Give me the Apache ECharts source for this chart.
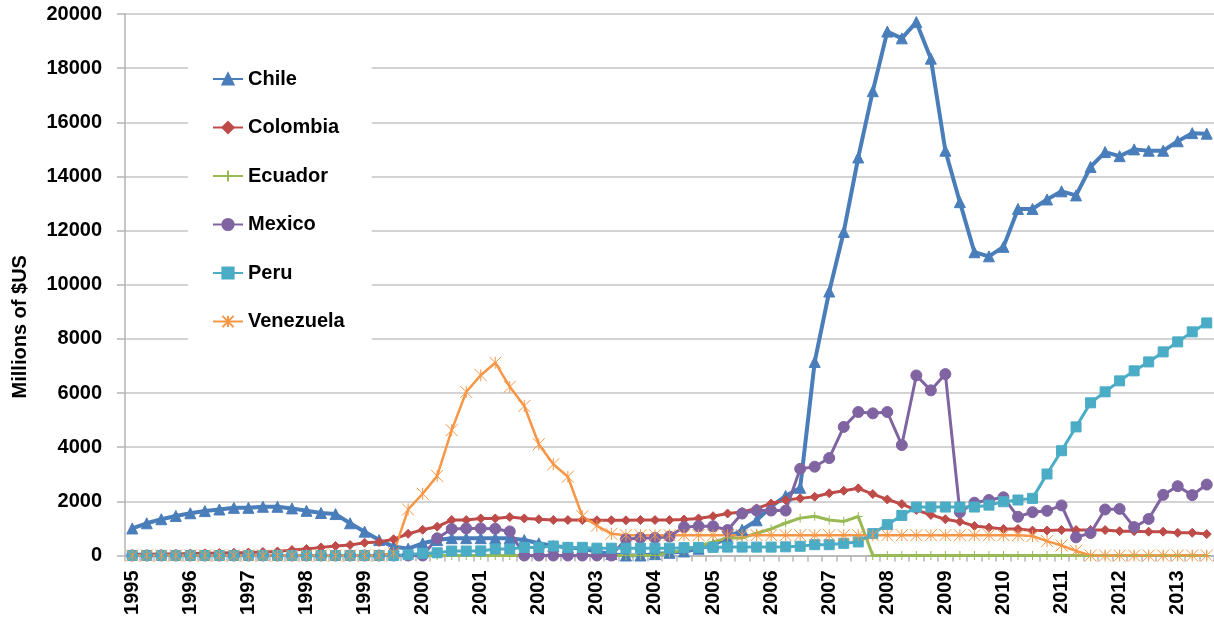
<!DOCTYPE html>
<html>
<head>
<meta charset="utf-8">
<script src="https://cdn.jsdelivr.net/npm/echarts@6/dist/echarts.min.js"></script>
<style>
  html, body { margin: 0; padding: 0; background: #fff; }
  #chart { width: 1214px; height: 625px; }
</style>
</head>
<body>
<div id="chart"></div>
<script>
// tick labels: one per year, data is quarterly from 1995 Q1 to 2013 Q3
const years = [1995, 1996, 1997, 1998, 1999, 2000, 2001, 2002, 2003, 2004,
  2005, 2006, 2007, 2008, 2009, 2010, 2011, 2012, 2013];
const quarters = ["Q1", "Q2", "Q3", "Q4"];

// values in millions of $US
const chile = [1000, 1190, 1340, 1460, 1560, 1640, 1700, 1760, 1760, 1800,
  1800, 1740, 1650, 1570, 1530, 1190, 880, 570, 330, 250,
  450, 570, 640, 640, 640, 640, 640, 570, 450, 350,
  300, 250, 150, 50, 0, 0, 50, 100, 150, 250,
  400, 650, 950, 1300, 1800, 2200, 2500, 7150, 9750, 11950,
  14700, 17150, 19350, 19100, 19700, 18350, 14950, 13050, 11200, 11050,
  11400, 12800, 12800, 13150, 13450, 13300, 14350, 14900, 14750, 15000,
  14950, 14950, 15300, 15600, 15580];
const colombia = [50, 50, 60, 60, 70, 80, 90, 100, 110, 130,
  150, 200, 240, 300, 350, 390, 470, 500, 600, 800,
  950, 1065, 1310, 1310, 1370, 1370, 1420, 1370, 1340, 1310,
  1310, 1310, 1300, 1300, 1300, 1310, 1310, 1310, 1330, 1370,
  1450, 1550, 1610, 1740, 1920, 2050, 2110, 2170, 2300, 2390,
  2480, 2270, 2070, 1900, 1680, 1500, 1340, 1250, 1090, 1030,
  980, 980, 920, 920, 940, 940, 940, 940, 900, 900,
  880, 880, 840, 840, 790];
const ecuador = [0, 0, 0, 0, 0, 0, 0, 0, 0, 0,
  0, 0, 0, 0, 0, 0, 0, 0, 0, 0,
  0, 0, 0, 0, 0, 0, 0, 0, 0, 0,
  0, 0, 0, 0, 0, 0, 0, 100, 200, 350,
  500, 650, 650, 820, 980, 1200, 1380, 1450, 1310, 1260,
  1440, 0, 0, 0, 0, 0, 0, 0, 0, 0,
  0, 0, 0, 0, 0, 0, 0, 0, 0, 0,
  0, 0, 0, 0, 0];
const mexico = [0, 0, 0, 0, 0, 0, 0, 0, 0, 0,
  0, 0, 0, 0, 0, 0, 0, 0, 0, 0,
  0, 635, 980, 1000, 1000, 990, 890, 0, 0, 0,
  0, 0, 0, 0, 600, 650, 650, 700, 1050, 1080,
  1080, 940, 1550, 1660, 1660, 1660, 3200, 3280, 3600, 4750,
  5300, 5250, 5300, 4080, 6650, 6100, 6700, 1600, 1950, 2050,
  2150, 1430, 1600, 1650, 1850, 670, 830, 1700, 1720, 1050,
  1350, 2240, 2560, 2230, 2620];
const peru = [0, 0, 0, 0, 0, 0, 0, 0, 0, 0,
  0, 0, 0, 0, 0, 0, 0, 0, 0, 30,
  80, 100, 165, 165, 170, 240, 240, 300, 300, 350,
  300, 300, 270, 270, 270, 270, 270, 270, 290, 300,
  300, 310, 310, 310, 310, 320, 340, 400, 400, 450,
  500, 810, 1140, 1480, 1790, 1790, 1790, 1790, 1790, 1860,
  1985, 2050, 2110, 3010, 3870, 4750, 5640, 6045, 6450, 6820,
  7150, 7520, 7890, 8260, 8590];
const venezuela = [0, 0, 0, 0, 0, 0, 0, 0, 0, 0,
  0, 0, 0, 0, 0, 0, 0, 0, 100, 1700,
  2280, 2940, 4630, 6040, 6660, 7120, 6230, 5520, 4110, 3370,
  2910, 1450, 1100, 800, 750, 750, 750, 750, 750, 750,
  750, 750, 750, 750, 750, 750, 750, 750, 750, 750,
  750, 750, 750, 750, 750, 750, 750, 750, 750, 750,
  750, 750, 720, 530, 370, 170, 0, 0, 0, 0,
  0, 0, 0, 0, 0];

// categories "1995 Q1" ... cut to the length of the data
const categories = [];
years.forEach((y) => {
  quarters.forEach((q) => {
    categories.push(y + " " + q);
  });
});
categories.length = chile.length;

const font = "'Liberation Sans', Arial, sans-serif";

function line(name, data, color, symbol, size, width) {
  return {
    name: name,
    type: "line",
    data: data,
    symbol: symbol,
    symbolSize: size,
    showAllSymbol: true,
    lineStyle: { color: color, width: width },
    itemStyle: { color: color, borderColor: color, borderWidth: 1 },
    emphasis: { disabled: true },
    animation: false,
  };
}

const option = {
  backgroundColor: "#fff",
  animation: false,
  textStyle: { fontFamily: font },
  grid: { left: 125, right: 0, top: 14, bottom: 69.5 },
  legend: {
    orient: "vertical",
    left: 188,
    top: 55,
    padding: [14, 27, 14, 24],
    backgroundColor: "#fff",
    itemWidth: 30,
    itemHeight: 14,
    itemGap: 28.5,
    textStyle: { fontFamily: font, fontSize: 20, fontWeight: "bold", color: "#000", lineHeight: 20 },
    data: ["Chile", "Colombia", "Ecuador", "Mexico", "Peru", "Venezuela"],
  },
  xAxis: {
    type: "category",
    data: categories,
    boundaryGap: true,
    axisLine: { lineStyle: { color: "#b5b5b5", width: 1.5 } },
    axisTick: { show: true, interval: 0, length: 6, lineStyle: { color: "#b5b5b5", width: 1.5 } },
    axisLabel: {
      interval: 3,
      rotate: 90,
      margin: 15,
      color: "#000",
      fontFamily: font,
      fontSize: 20,
      fontWeight: "bold",
      formatter: (v) => v.split(" ")[0],
    },
    splitLine: { show: false },
  },
  yAxis: {
    type: "value",
    min: 0,
    max: 20000,
    interval: 2000,
    name: "Millions of $US",
    nameLocation: "middle",
    nameGap: 95,
    nameTextStyle: {
      fontFamily: font,
      fontSize: 20,
      fontWeight: "bold",
      color: "#000",
      padding: [0, 84, 0, 0],
    },
    axisLine: { show: true, lineStyle: { color: "#b5b5b5", width: 1.5 } },
    axisTick: { show: true, length: 8, lineStyle: { color: "#b5b5b5", width: 1.5 } },
    axisLabel: {
      margin: 23,
      color: "#000",
      fontFamily: font,
      fontSize: 20,
      fontWeight: "bold",
      formatter: (v) => String(v),
    },
    splitLine: { lineStyle: { color: "#c4c4c4", width: 1.5 } },
  },
  series: [
    line("Chile", chile, "#4a7ebb", "triangle", 11, 4),
    line("Colombia", colombia, "#be4b48", "diamond", 9, 3),
    line("Ecuador", ecuador, "#98b954", "path://M0,5L10,5M5,0L5,10", 9, 3),
    line("Mexico", mexico, "#8064a2", "circle", 11, 3),
    line("Peru", peru, "#4bacc6", "rect", 10, 3),
    line("Venezuela", venezuela, "#f79646", "path://M0,0L10,10M10,0L0,10M5,0L5,10", 12, 2.5),
  ],
};

const chartObj = echarts.init(document.getElementById("chart"));
chartObj.setOption(option);
</script>
</body>
</html>
